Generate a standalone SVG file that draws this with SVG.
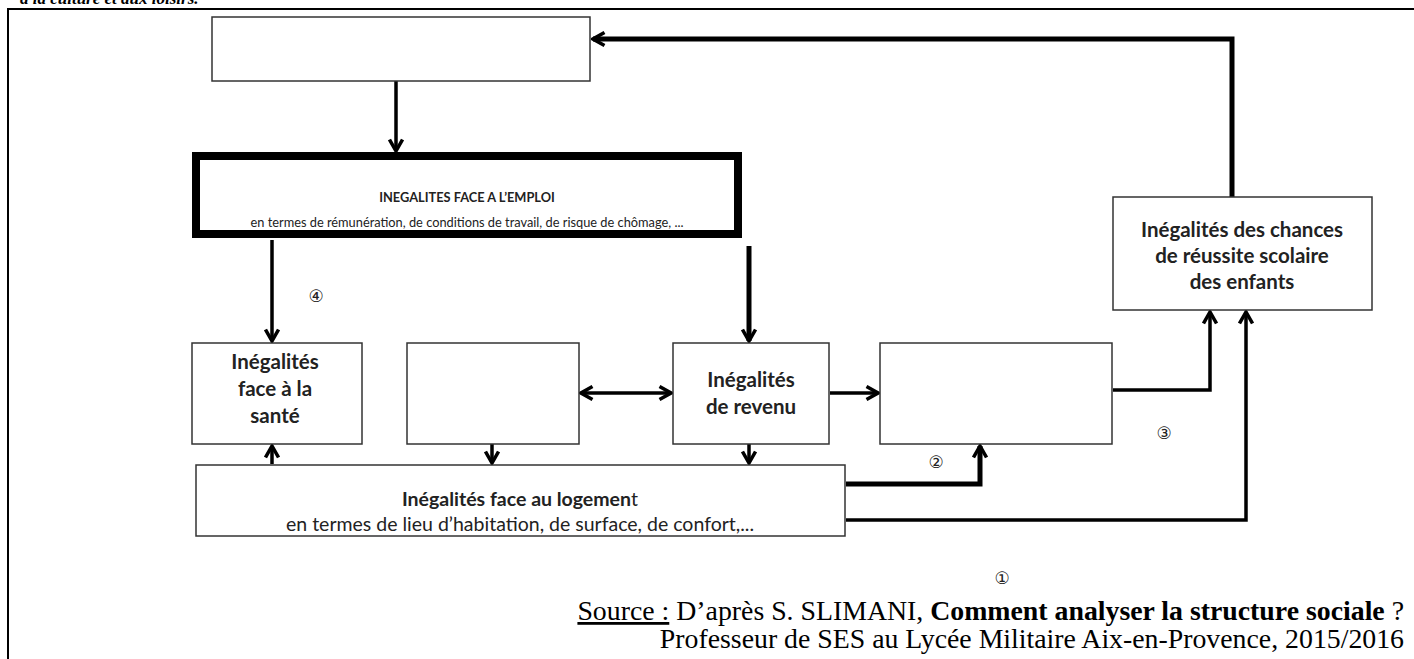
<svg xmlns="http://www.w3.org/2000/svg" width="1414" height="659" viewBox="0 0 1414 659">
<style>
.box{fill:#fff;stroke:#333;stroke-width:1.5}
.bt{font-family:Lato,"Open Sans","Liberation Sans",sans-serif;font-size:20.5px;font-weight:bold;fill:#222;text-anchor:middle}
.st{font-family:Lato,"Open Sans","Liberation Sans",sans-serif;font-size:19.5px;fill:#222;text-anchor:middle}
.et{font-family:Lato,"Open Sans","Liberation Sans",sans-serif;font-size:12.8px;fill:#222;text-anchor:middle}
.ln{fill:none;stroke:#000;stroke-width:3.5}
.lt{fill:none;stroke:#000;stroke-width:5}
.num{font-family:"DejaVu Sans",sans-serif;font-size:17px;fill:#222;text-anchor:middle}
.src{font-family:"Liberation Serif","Times New Roman",serif;font-size:27.8px;fill:#000;text-anchor:end}
</style>
<defs>
<marker id="ah" viewBox="0 0 16 16" refX="14" refY="8" markerWidth="16" markerHeight="16" markerUnits="userSpaceOnUse" orient="auto-start-reverse">
<path d="M2.5,1.5 L14,8 L2.5,14.5" fill="none" stroke="#000" stroke-width="3.5"/>
</marker>
</defs>
<text x="20" y="4" font-family="Liberation Serif,serif" font-size="17" font-style="italic" font-weight="bold" fill="#000">à la culture et aux loisirs.</text>
<path d="M8,1000 V9 H1414" fill="none" stroke="#000" stroke-width="2"/>
<g id="connectors">
<path class="lt" d="M1232,197 V39 H593" marker-end="url(#ah)"/>
<path class="ln" d="M396,81 V151" marker-end="url(#ah)"/>
<path class="ln" d="M272,240 V341" marker-end="url(#ah)"/>
<path class="lt" d="M749,246 V341" marker-end="url(#ah)"/>
<path class="ln" d="M581,393 H671" marker-start="url(#ah)" marker-end="url(#ah)"/>
<path class="ln" d="M830,393 H878" marker-end="url(#ah)"/>
<path class="ln" d="M1113,390 H1210 V312" marker-end="url(#ah)"/>
<path class="lt" d="M846,484 H980 V446" marker-end="url(#ah)"/>
<path class="ln" d="M846,520 H1246 V312" marker-end="url(#ah)"/>
<path class="ln" d="M492,444 V463" marker-end="url(#ah)"/>
<path class="ln" d="M749,444 V463" marker-end="url(#ah)"/>
<path class="ln" d="M272,464 V446" marker-end="url(#ah)"/>
</g>
<g id="top-box"><rect class="box" x="212" y="17" width="378" height="64"/></g>
<g id="emploi">
<rect x="196" y="156" width="542" height="78" fill="#fff" stroke="#000" stroke-width="8"/>
<text class="et" x="467" y="202" font-weight="bold">INEGALITES FACE A L’EMPLOI</text>
<text class="et" x="467" y="227">en termes de rémunération, de conditions de travail, de risque de chômage, ...</text>
</g>
<g id="chances">
<rect class="box" x="1113" y="197" width="259" height="113"/>
<text class="bt" x="1242" y="237">Inégalités des chances</text>
<text class="bt" x="1242" y="263">de réussite scolaire</text>
<text class="bt" x="1242" y="289">des enfants</text>
</g>
<g id="sante">
<rect class="box" x="192" y="343" width="170" height="101"/>
<text class="bt" x="275" y="369">Inégalités</text>
<text class="bt" x="275" y="396">face à la</text>
<text class="bt" x="275" y="423">santé</text>
</g>
<g id="box-empty-2"><rect class="box" x="407" y="343" width="172" height="101"/></g>
<g id="revenu">
<rect class="box" x="673" y="343" width="156" height="101"/>
<text class="bt" x="751" y="387">Inégalités</text>
<text class="bt" x="751" y="414">de revenu</text>
</g>
<g id="box-empty-3"><rect class="box" x="880" y="343" width="232" height="101"/></g>
<g id="logement">
<rect class="box" x="196" y="465" width="649" height="71"/>
<text class="st" x="520" y="506"><tspan font-weight="bold">Inégalités face au logemen</tspan>t</text>
<text class="st" x="520" y="531">en termes de lieu d’habitation, de surface, de confort,...</text>
</g>
<g id="labels">
<text class="num" x="316" y="302">④</text>
<text class="num" x="936" y="468">②</text>
<text class="num" x="1164" y="439">③</text>
<text class="num" x="1002" y="584">①</text>
</g>
<g id="source">
<text class="src" x="1404" y="620"><tspan text-decoration="underline">Source :</tspan> D’après S. SLIMANI, <tspan font-weight="bold">Comment analyser la structure sociale</tspan> ?</text>
<text class="src" x="1404" y="648">Professeur de SES au Lycée Militaire Aix-en-Provence, 2015/2016</text>
</g>
</svg>
